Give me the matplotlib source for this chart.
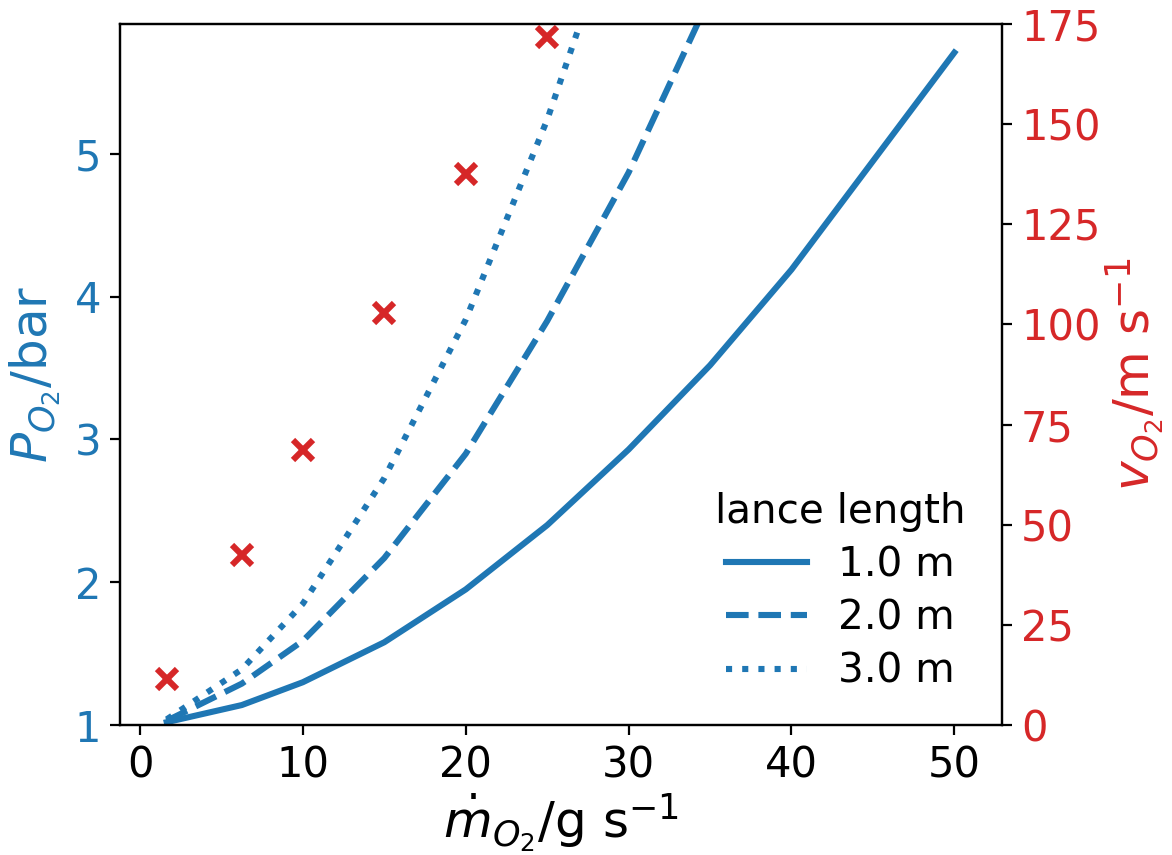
import matplotlib
matplotlib.use("Agg")
import matplotlib.pyplot as plt

# mass flow rate of O2 (g/s)
m_lines = [1.64, 6.25, 10, 15, 20, 25, 30, 35, 40, 50]
# pressure (bar) for each lance length
p_1m = [1.02, 1.14, 1.30, 1.58, 1.95, 2.40, 2.93, 3.52, 4.19, 5.71]
p_2m = [1.03, 1.29, 1.59, 2.17, 2.90, 3.83, 4.87, 6.10]
p_3m = [1.04, 1.39, 1.85, 2.73, 3.84, 5.24, 6.90]
labels = ["1.0 m", "2.0 m", "3.0 m"]

# velocity (m/s)
m_vel = [1.64, 6.25, 10, 15, 20, 25]
v_o2 = [11.6, 42.4, 68.6, 102.9, 137.5, 171.7]

blue = "#1f77b4"
red = "#d62728"

fig = plt.figure(figsize=(5.86, 4.275), dpi=200)
ax = fig.add_axes([0.1028, 0.152, 0.7518, 0.8199])
ax2 = ax.twinx()

lw = 2.2
ax.plot(m_lines, p_1m, color=blue, lw=lw, ls="-", label=labels[0])
ax.plot(m_lines[:len(p_2m)], p_2m, color=blue, lw=lw, ls="--", label=labels[1])
ax.plot(m_lines[:len(p_3m)], p_3m, color=blue, lw=lw, ls=":", label=labels[2])

ax2.plot(m_vel, v_o2, ls="none", marker="x", color=red, ms=7, mew=2.2)

ax.set_xlim(-1.2, 52.9)
ax.set_ylim(1, 5.91)
ax2.set_ylim(0, 175)
ax.set_xticks([0, 10, 20, 30, 40, 50])
ax.set_yticks([1, 2, 3, 4, 5])
ax2.set_yticks([0, 25, 50, 75, 100, 125, 150, 175])

ax.tick_params(axis="both", labelsize=15)
ax.tick_params(axis="y", labelcolor=blue)
ax2.tick_params(axis="y", labelsize=15, labelcolor=red)

ax.set_xlabel(r"$\dot{m}_{O_2}$/g s$^{-1}$", fontsize=18, labelpad=2)
ax.set_ylabel(r"$P_{O_2}$/bar", fontsize=18, color=blue, labelpad=4)
ax2.set_ylabel(r"$v_{O_2}$/m s$^{-1}$", fontsize=18, color=red, labelpad=1)

leg = ax.legend(title="lance length", loc="lower right", frameon=False,
                fontsize=14.6, title_fontsize=14.6, labelspacing=0.33,
                borderaxespad=0.42, handletextpad=0.75,
                bbox_to_anchor=(0.997, 0.0))

fig.savefig("out.png", dpi=200)
